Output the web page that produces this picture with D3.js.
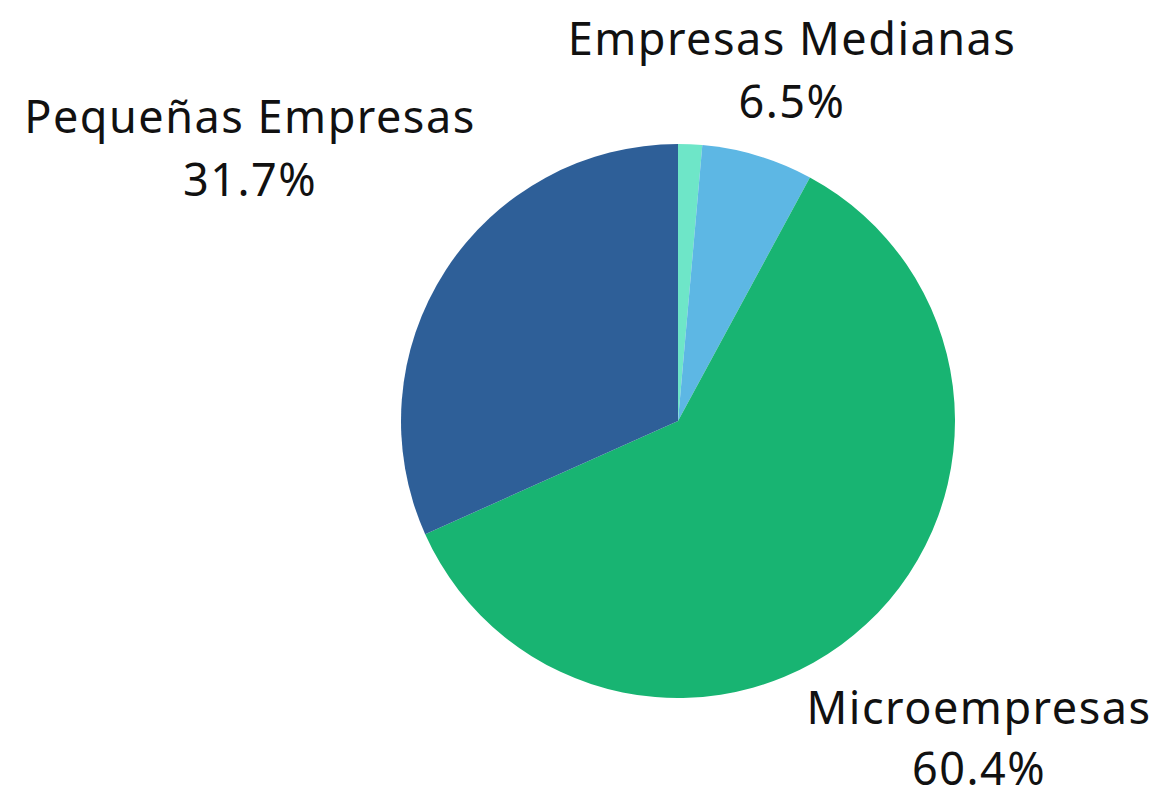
<!DOCTYPE html>
<html>
<head>
<meta charset="utf-8">
<title>Empresas</title>
<script src="https://cdn.jsdelivr.net/npm/d3@7"></script>
<style>
    body { margin: 0; background: #fff; }
    text { font-family: "Noto Sans", sans-serif; fill: #111; }
</style>
</head>
<body>
<svg width="1165" height="799"></svg>
<script>
// slices clockwise from 12 o'clock
var categories = ["Grandes Empresas", "Empresas Medianas", "Microempresas", "Pequeñas Empresas"];
var values = [1.4, 6.5, 60.4, 31.7];
var colors = ["#6EE6C8", "#5DB7E4", "#18B472", "#2E5F98"];
var shown = [false, true, true, true];
// label anchor spots (centre x, first baseline, line gap)
var labelX = [0, 792, 979, 250];
var labelY = [0, 55, 724, 133];
var labelGap = [0, 63, 61, 63];

var svg = d3.select("svg");
var cx = 678, cy = 421, r = 277;

var pie = d3.pie().sort(null).value(function(d) { return d; });
var arc = d3.arc().innerRadius(0).outerRadius(r);

var g = svg.append("g").attr("transform", "translate(" + cx + "," + cy + ")");

g.selectAll("path")
    .data(pie(values))
    .enter().append("path")
    .attr("d", arc)
    .attr("fill", function(d, i) { return colors[i]; });

var labels = svg.selectAll(".lbl")
    .data(categories.map(function(c, i) { return i; }).filter(function(i) { return shown[i]; }))
    .enter().append("text")
    .attr("class", "lbl")
    .attr("text-anchor", "middle")
    .style("font-size", "45px")
    .style("letter-spacing", "1.5px");

labels.append("tspan")
    .attr("x", function(i) { return labelX[i]; })
    .attr("y", function(i) { return labelY[i]; })
    .text(function(i) { return categories[i]; });

labels.append("tspan")
    .attr("x", function(i) { return labelX[i]; })
    .attr("y", function(i) { return labelY[i] + labelGap[i]; })
    .text(function(i) { return values[i].toFixed(1) + "%"; });
</script>
</body>
</html>
